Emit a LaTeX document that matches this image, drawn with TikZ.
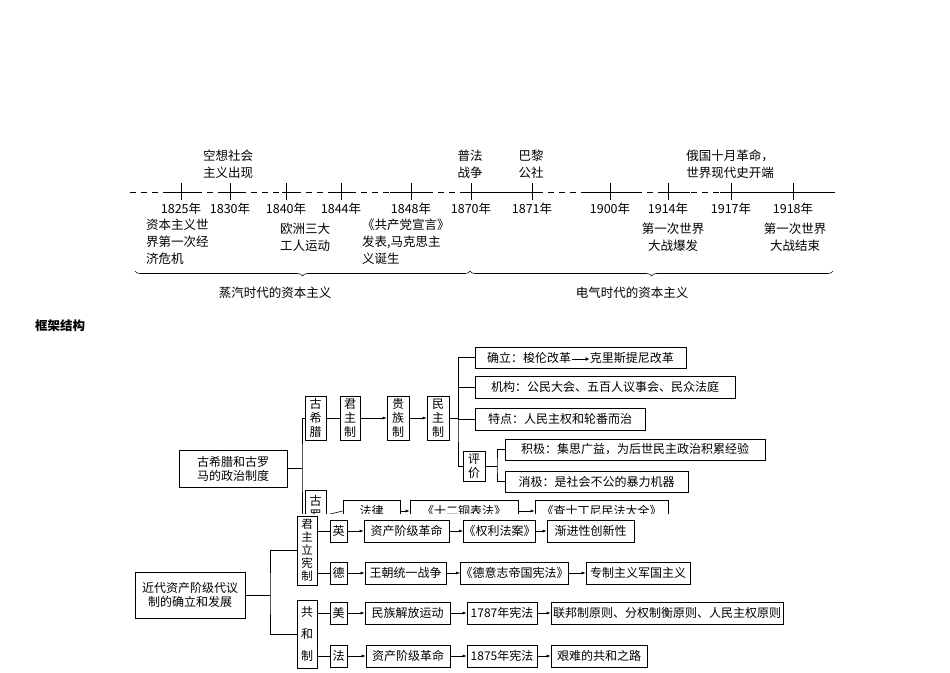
\documentclass[tikz,border=0pt]{standalone}
\usepackage{fontspec}
\setmainfont{Noto Sans CJK SC}
\usetikzlibrary{decorations.pathreplacing,arrows.meta}
\tikzset{
  bx/.style={draw,line width=0.7pt,inner sep=0pt,align=center,font=\fontsize{12}{14}\selectfont},
  ln/.style={line width=0.6pt},
  ar/.style={line width=0.6pt,-{Latex[length=4pt,width=3pt]}},
  lab/.style={font=\fontsize{12.5}{17}\selectfont,align=center,inner sep=0pt},
  tk/.style={line width=0.6pt}
}
\newcommand\bx[6]{\node[bx,minimum width={(#4-#2)*1pt},minimum height={(#5-#3)*1pt}] (#1) at ({(#2+#4)/2},{(#3+#5)/2}) {#6};}
\newcommand\arrw{\tikz[baseline=-3pt]\draw[line width=0.9pt,-{Latex[length=4pt,width=4pt]}] (0,0) -- (18pt,0);}
\begin{document}
\begin{tikzpicture}[x=1pt,y=-1pt]
\useasboundingbox (0,0) rectangle (950,672);
% timeline
\coordinate (t0) at (130,192); \coordinate (t1) at (835,192);
\draw[tk,dash pattern=on 6pt off 5pt] (t0) -- (t1);
\foreach \a/\b in {165/200,218/240,282/298,330/352,390/427,460/540,583/640,660/690,720/835}
  \draw[tk] (\a,192) -- (\b,192);
\foreach \x/\y [count=\i] in {181/1825,230/1830,286/1840,341/1844,411/1848,471/1870,532/1871,610/1900,668/1914,731/1917,793/1918}{
  \draw[tk] (\x,183) -- (\x,200);
  \node[lab] (y\i) at (\x,209) {\y 年};
}
\node[lab] (a1) at (228,164) {空想社会\\主义出现};
\node[lab] (a2) at (470,164) {普法\\战争};
\node[lab] (a3) at (531,164) {巴黎\\公社};
\node[lab] (a4) at (730,164) {俄国十月革命，\\世界现代史开端};
\node[lab,align=left,anchor=north west] (b1) at (146,219) {资本主义世\\界第一次经\\济危机};
\node[lab] (b2) at (305,237) {欧洲三大\\工人运动};
\node[lab,align=left,anchor=north west] (b3) at (362,219) {《共产党宣言》\\发表,马克思主\\义诞生};
\node[lab] (b4) at (673,237) {第一次世界\\大战爆发};
\node[lab] (b5) at (795,237) {第一次世界\\大战结束};
\coordinate (c0) at (135,271); \coordinate (c1) at (470,271); \coordinate (c2) at (833,271);
\draw[ln,decorate,decoration={brace,mirror,amplitude=5pt}] (c0) -- (c1);
\draw[ln,decorate,decoration={brace,mirror,amplitude=5pt}] (c1) -- (c2);
\node[lab] (e1) at (275,293) {蒸汽时代的资本主义};
\node[lab] (e2) at (632,293) {电气时代的资本主义};
\node[font=\bfseries\fontsize{12.5}{14}\selectfont] (kj) at (60,326) {框架结构};
% upper diagram
\begin{scope}
\clip (0,330) rectangle (950,513);
\bx{r1}{179}{450}{287}{487}{古希腊和古罗\\马的政治制度}
\bx{gxl}{305}{396}{326}{440}{古\\希\\腊}
\bx{jz}{340}{396}{360}{440}{君\\主\\制}
\bx{gz}{387}{396}{409}{440}{贵\\族\\制}
\bx{mz}{427}{396}{449}{440}{民\\主\\制}
\bx{q1}{475}{347}{686}{368}{确立：梭伦改革\arrw 克里斯提尼改革}
\bx{q2}{475}{376}{735}{398}{机构：公民大会、五百人议事会、民众法庭}
\bx{q3}{475}{408}{645}{430}{特点：人民主权和轮番而治}
\bx{pj}{463}{451}{485}{481}{评\\价}
\bx{p1}{505}{439}{765}{460}{积极：集思广益，为后世民主政治积累经验}
\bx{p2}{505}{471}{688}{492}{消极：是社会不公的暴力机器}
\bx{glm}{305}{490}{326}{540}{古\\罗\\马}
\bx{fl}{343}{500}{400}{522}{法律}
\bx{sr}{410}{500}{518}{522}{《十二铜表法》}
\bx{cs}{535}{500}{668}{522}{《查士丁尼民法大全》}
\draw[ln] (r1.east) -- (302,468.5) coordinate (k1);
\draw[ln] (gxl.west) -| (k1) |- (glm.west);
\draw[ln] (gxl.east) -- (jz.west);
\draw[ar] (jz.east) -- (gz.west);
\draw[ar] (gz.east) -- (mz.west);
\draw[ln] (mz.east) -- (458,418) coordinate (k2);
\draw[ln] (q1.west) -| (k2) |- (pj.west);
\draw[ln] (q2.west) -| (k2); \draw[ln] (q3.west) -| (k2);
\draw[ln] (pj.east) -- (497,466) coordinate (k3);
\draw[ln] (p1.west) -| (k3) |- (p2.west);
\draw[ln] (glm.east) -- (fl.west);
\draw[ar] (fl.east) -- (sr.west);
\draw[ar] (sr.east) -- (cs.west);
\end{scope}
% lower diagram
\bx{r2}{135}{572}{245}{618}{近代资产阶级代议\\制的确立和发展}
\node[bx,minimum width=20pt,minimum height=69pt,font=\fontsize{11.5}{13}\selectfont] (jx) at (307,550.5) {君\\主\\立\\宪\\制};
\node[bx,minimum width=20pt,minimum height=68pt,font=\fontsize{12}{22}\selectfont] (gh) at (307,634) {共\\和\\制};
\bx{ying}{330}{520}{347}{542}{英}
\bx{de}{330}{562}{347}{584}{德}
\bx{mei}{330}{602}{347}{624}{美}
\bx{fa}{330}{645}{347}{667}{法}
\bx{y1}{364}{520}{449}{542}{资产阶级革命}
\bx{y2}{465}{520}{534}{542}{《权利法案》}
\bx{y3}{547}{520}{634}{542}{渐进性创新性}
\bx{d1}{365}{562}{446}{584}{王朝统一战争}
\bx{d2}{461}{562}{568}{584}{《德意志帝国宪法》}
\bx{d3}{586}{562}{690}{584}{专制主义军国主义}
\bx{m1}{365}{602}{450}{624}{民族解放运动}
\bx{m2}{467}{602}{537}{624}{1787年宪法}
\bx{m3}{551}{602}{783}{624}{联邦制原则、分权制衡原则、人民主权原则}
\bx{f1}{366}{645}{450}{667}{资产阶级革命}
\bx{f2}{467}{645}{537}{667}{1875年宪法}
\bx{f3}{551}{645}{647}{667}{艰难的共和之路}
\draw[ln] (r2.east) -- (270,595) coordinate (k4);
\draw[ln] (jx.west) -| (k4) |- (gh.west);
\draw[ln] (ying.west -| jx.east) -- (ying.west);
\draw[ln] (de.west -| jx.east) -- (de.west);
\draw[ln] (mei.west -| gh.east) -- (mei.west);
\draw[ln] (fa.west -| gh.east) -- (fa.west);
\foreach \a/\b/\c/\d in {ying/y1/y2/y3,de/d1/d2/d3,mei/m1/m2/m3,fa/f1/f2/f3}{
  \draw[ar] (\a.east) -- (\b.west);
  \draw[ar] (\b.east) -- (\c.west);
  \draw[ar] (\c.east) -- (\d.west);
}
\end{tikzpicture}
\end{document}
